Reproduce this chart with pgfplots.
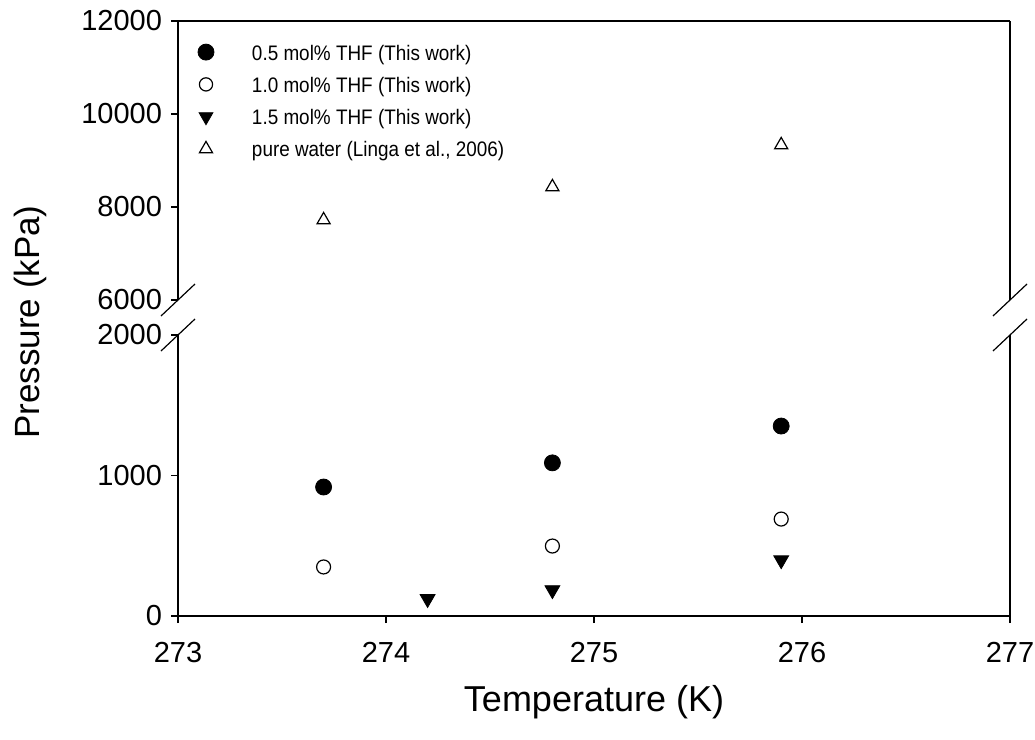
\documentclass[border=0pt]{standalone}
\usepackage{pgfplots}
\pgfplotsset{compat=1.18}
\usepackage{fontspec}
\setmainfont{Liberation Sans}
\newfontfamily\legfont[FakeStretch=0.9]{Liberation Sans}
\begin{document}
\begin{tikzpicture}
\useasboundingbox (-89pt,-62pt) rectangle (428.5pt,308pt);
\pgfplotsset{
  common/.style={
    scale only axis, width=416pt, xmin=273, xmax=277,
    clip=false, tick align=outside, major tick length=3.5pt,
    scaled y ticks=false, scaled x ticks=false,
    /pgf/number format/assume math mode=true,
    /pgf/number format/1000 sep={},
    tick label style={font=\fontsize{14.5}{16}\selectfont},
    axis line style={line width=0.6pt}, every tick/.style={line width=0.6pt,black},
  },
}
% lower axis
\begin{axis}[common, at={(0,0)}, anchor=south west, height=140.5pt,
  ymin=0, ymax=2000, ytick={0,1000,2000},
  axis x line*=bottom, axis y line*=left,
  xtick={273,274,275,276,277},
  xticklabel style={yshift=-6pt}, yticklabel style={xshift=-1pt},
]
\addplot[only marks, mark=*, mark size=4pt, black] coordinates {(273.7,918) (274.8,1090) (275.9,1352)};
\addplot[only marks, mark=o, mark size=3.5pt, black, mark options={line width=0.6pt}] coordinates {(273.7,349) (274.8,498) (275.9,690)};
\addplot[only marks, mark=triangle*, mark size=4.3pt, black, mark options={rotate=180}] coordinates {(274.2,122) (274.8,185) (275.9,398)};
\draw[line width=0.6pt] (rel axis cs:1,0) -- (rel axis cs:1,1);
\draw[line width=0.6pt] ([xshift=-8.5pt,yshift=-8pt]rel axis cs:0,1) -- ([xshift=8.5pt,yshift=8pt]rel axis cs:0,1);
\draw[line width=0.6pt] ([xshift=-8.5pt,yshift=-8pt]rel axis cs:1,1) -- ([xshift=8.5pt,yshift=8pt]rel axis cs:1,1);
\end{axis}
% upper axis
\begin{axis}[common, at={(0,158pt)}, anchor=south west, height=139.5pt,
  ymin=6000, ymax=12000, ytick={6000,8000,10000,12000},
  axis x line*=top, axis y line*=left, xtick=\empty,
  yticklabel style={xshift=-1pt},
  legend style={at={(0,1)}, anchor=north west, draw=none, fill=none, inner sep=0pt, outer sep=0pt,
    xshift=10pt, yshift=-8.75pt,
    font=\fontsize{10.5}{12}\selectfont\legfont, row sep=2.9pt,
    nodes={inner sep=0pt, outer sep=0pt, text height=8pt, text depth=2.5pt}},
  legend cell align=left,
  legend image code/.code={\path[draw=none,fill=none] (-4pt,-2.5pt) rectangle (23pt,8pt); \draw[#1, yshift=1.2pt] plot coordinates {(0pt,0pt)};},
]
\addlegendimage{only marks, mark=*, mark size=4pt, black}
\addlegendentry{0.5 mol\% THF (This work)}
\addlegendimage{only marks, mark=o, mark size=3.3pt, black, mark options={line width=0.6pt}}
\addlegendentry{1.0 mol\% THF (This work)}
\addlegendimage{only marks, mark=triangle*, mark size=4pt, black, mark options={rotate=180}}
\addlegendentry{1.5 mol\% THF (This work)}
\addlegendimage{only marks, mark=triangle, mark size=3.8pt, black, mark options={line width=0.6pt}}
\addlegendentry{pure water (Linga et al., 2006)}
\addplot[only marks, mark=triangle, mark size=3.8pt, black, mark options={line width=0.6pt}, forget plot] coordinates {(273.7,7720) (274.8,8430) (275.9,9333)};
\draw[line width=0.6pt] (rel axis cs:1,0) -- (rel axis cs:1,1);
\draw[line width=0.6pt] ([xshift=-8.5pt,yshift=-8pt]rel axis cs:0,0) -- ([xshift=8.5pt,yshift=8pt]rel axis cs:0,0);
\draw[line width=0.6pt] ([xshift=-8.5pt,yshift=-8pt]rel axis cs:1,0) -- ([xshift=8.5pt,yshift=8pt]rel axis cs:1,0);
\end{axis}
\node[rotate=90, font=\fontsize{17.5}{20}\selectfont] at (-74pt,147pt) {Pressure (kPa)};
\node[font=\fontsize{18}{20}\selectfont] at (208pt,-43pt) {Temperature (K)};
\end{tikzpicture}
\end{document}
